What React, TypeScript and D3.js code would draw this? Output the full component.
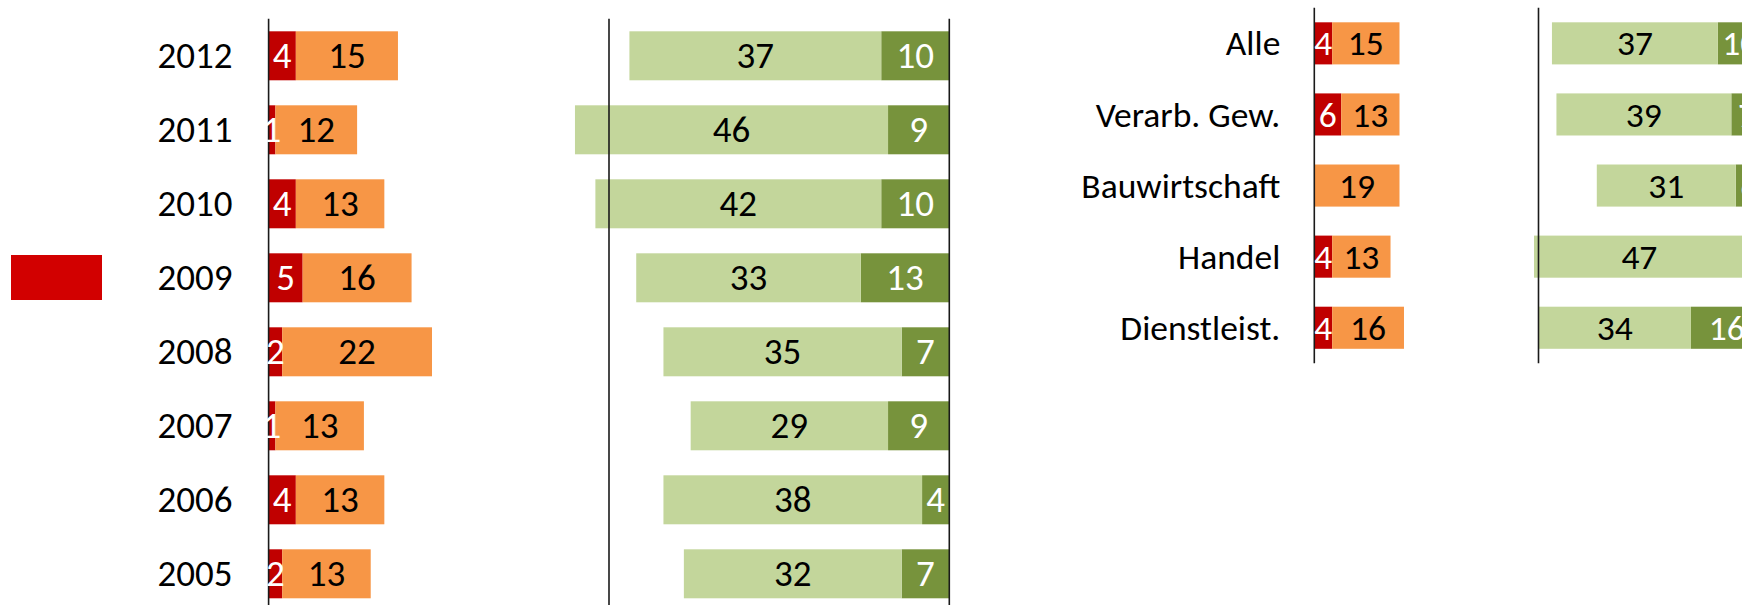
import * as d3 from "d3";

// year view
const years = ["2012", "2011", "2010", "2009", "2008", "2007", "2006", "2005"];
const yearNegStrong = [4, 1, 4, 5, 2, 1, 4, 2];
const yearNegWeak = [15, 12, 13, 16, 22, 13, 13, 13];
const yearPosWeak = [37, 46, 42, 33, 35, 29, 38, 32];
const yearPosStrong = [10, 9, 10, 13, 7, 9, 4, 7];

// sector view
const sectors = ["Alle", "Verarb. Gew.", "Bauwirtschaft", "Handel", "Dienstleist."];
const sectorNegStrong = [4, 6, 0, 4, 4];
const sectorNegWeak = [15, 13, 19, 13, 16];
const sectorPosWeak = [37, 39, 31, 47, 34];
const sectorPosStrong = [10, 7, 6, 4, 16];

const colors: any = {
  negStrong: "#C00000",
  negWeak: "#F79646",
  posWeak: "#C3D69B",
  posStrong: "#77933C"
};
const labelColors: any = {
  negStrong: "#ffffff",
  negWeak: "#000000",
  posWeak: "#000000",
  posStrong: "#ffffff"
};

const FONT = "Calibri, Carlito, Roboto, sans-serif";

function Panel({
  cats, negStrong, negWeak, posWeak, posStrong,
  y, xNeg, xPos, fontSize, labelGap
}: any) {
  const rows = cats.map((c: string, i: number) => ({
    cat: c,
    negStrong: negStrong[i],
    negWeak: negWeak[i],
    posWeak: posWeak[i],
    posStrong: posStrong[i]
  }));

  const negStack = d3.stack().keys(["negStrong", "negWeak"])(rows);
  const posStack = d3.stack().keys(["posStrong", "posWeak"])(rows);
  const bw = y.bandwidth();
  const [top, bottom] = y.range();
  const axisXs = [xNeg(0), xPos(50), xPos(0)];

  return (
    <g fontFamily={FONT} fontSize={fontSize}>
      {rows.map((r: any) => (
        <text key={r.cat} x={xNeg(0) - labelGap} y={y(r.cat) + bw / 2} dy="0.34em"
          textAnchor="end" fill="#000">{r.cat}</text>
      ))}
      {negStack.map((s: any) => (
        <g key={s.key} fill={colors[s.key]}>
          {s.map((d: any, i: number) => (
            <rect key={i} x={xNeg(d[0])} y={y(rows[i].cat)}
              width={xNeg(d[1]) - xNeg(d[0])} height={bw} />
          ))}
        </g>
      ))}
      {posStack.map((s: any) => (
        <g key={s.key} fill={colors[s.key]}>
          {s.map((d: any, i: number) => (
            <rect key={i} x={xPos(d[1])} y={y(rows[i].cat)}
              width={xPos(d[0]) - xPos(d[1])} height={bw} />
          ))}
        </g>
      ))}
      {axisXs.map((ax, i) => (
        <line key={i} x1={ax} x2={ax} y1={top} y2={bottom} stroke="#1a1a1a" strokeWidth={1.6} />
      ))}
      {negStack.map((s: any) => (
        <g key={s.key} fill={labelColors[s.key]} textAnchor="middle">
          {s.map((d: any, i: number) => d[1] - d[0] > 0 ? (
            <text key={i} x={(xNeg(d[0]) + xNeg(d[1])) / 2} y={y(rows[i].cat) + bw / 2} dy="0.34em">
              {d[1] - d[0]}
            </text>
          ) : null)}
        </g>
      ))}
      {posStack.map((s: any) => (
        <g key={s.key} fill={labelColors[s.key]} textAnchor="middle">
          {s.map((d: any, i: number) => d[1] - d[0] > 0 ? (
            <text key={i} x={(xPos(d[0]) + xPos(d[1])) / 2} y={y(rows[i].cat) + bw / 2} dy="0.34em">
              {d[1] - d[0]}
            </text>
          ) : null)}
        </g>
      ))}
    </g>
  );
}

export default function App() {
  const width = 1742;
  const height = 605;

  const yYear = d3.scaleBand(years, [18.8, 610.8]).paddingInner(0.338).paddingOuter(0.169);
  const xYearNeg = d3.scaleLinear([0, 50], [268.6, 609]);
  const xYearPos = d3.scaleLinear([0, 50], [949.3, 609]);

  const ySector = d3.scaleBand(sectors, [7.8, 363.3]).paddingInner(0.408).paddingOuter(0.204);
  const xSectorNeg = d3.scaleLinear([0, 50], [1314.3, 1538.5]);
  const xSectorPos = d3.scaleLinear([0, 50], [1762.7, 1538.5]);

  return (
    <svg width={width} height={height}
      style={{ position: "absolute", left: 0, top: 0, background: "#fff" }}>
      <rect x={11} y={255} width={91} height={45} fill="#D20000" />
      <Panel cats={years} negStrong={yearNegStrong} negWeak={yearNegWeak}
        posWeak={yearPosWeak} posStrong={yearPosStrong}
        y={yYear} xNeg={xYearNeg} xPos={xYearPos} fontSize={37} labelGap={36} />
      <Panel cats={sectors} negStrong={sectorNegStrong} negWeak={sectorNegWeak}
        posWeak={sectorPosWeak} posStrong={sectorPosStrong}
        y={ySector} xNeg={xSectorNeg} xPos={xSectorPos} fontSize={35.5} labelGap={34} />
    </svg>
  );
}
